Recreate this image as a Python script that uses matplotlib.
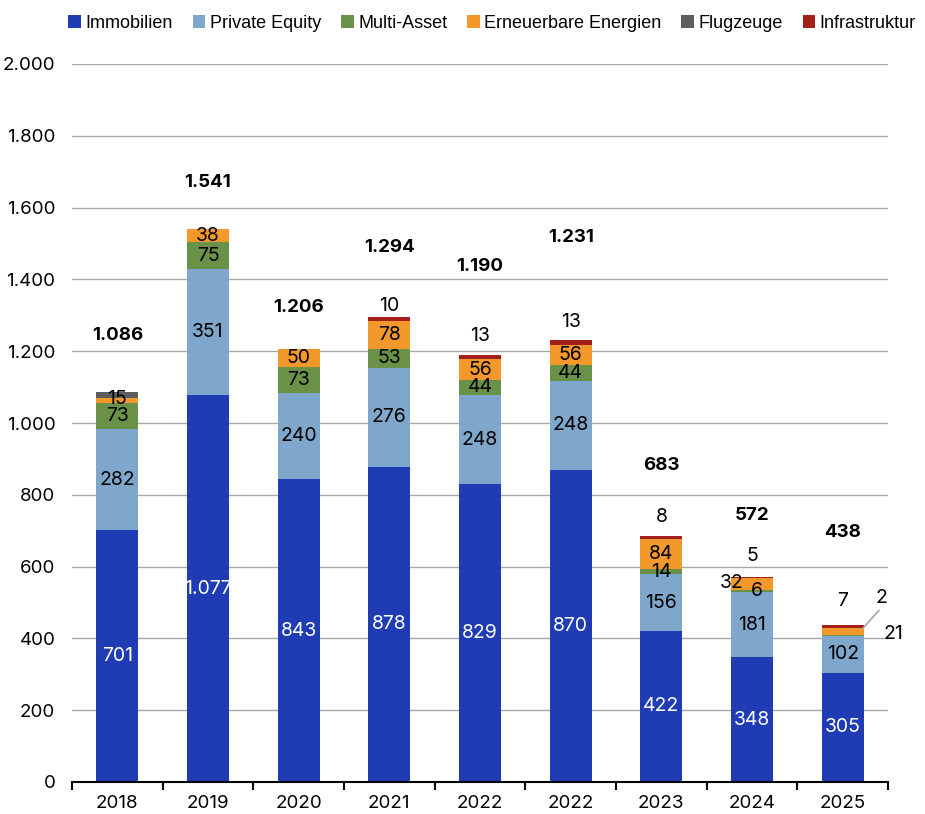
import matplotlib
matplotlib.use("Agg")
import matplotlib.pyplot as plt
from matplotlib.patches import Patch
from matplotlib.ticker import FixedLocator, FuncFormatter
import numpy as np

# Data (Mio. EUR)
years = ["2018", "2019", "2020", "2021", "2022", "2022", "2023", "2024", "2025"]
series_names = ["Immobilien", "Private Equity", "Multi-Asset",
                "Erneuerbare Energien", "Flugzeuge", "Infrastruktur"]
immobilien = [701, 1077, 843, 878, 829, 870, 422, 348, 305]
private_equity = [282, 351, 240, 276, 248, 248, 156, 181, 102]
multi_asset = [73, 75, 73, 53, 44, 44, 14, 6, 2]
erneuerbare = [15, 38, 50, 78, 56, 56, 84, 32, 21]
flugzeuge = [15, 0, 0, 0, 0, 0, 0, 0, 0]
infrastruktur = [0, 0, 0, 10, 13, 13, 8, 5, 7]
totals = [1086, 1541, 1206, 1294, 1190, 1231, 683, 572, 438]
y_ticks = [0, 200, 400, 600, 800, 1000, 1200, 1400, 1600, 1800, 2000]

colors = ["#1F3CB4", "#7FA7CC", "#6A9148", "#F3982A", "#5E5E5E", "#A31F1A"]

NUM_FONT = ["Inter", "DejaVu Sans"]
LEG_FONT = ["Liberation Sans Narrow", "Liberation Sans", "DejaVu Sans"]

fig = plt.figure(figsize=(9.25, 8.14), dpi=100)
ax = fig.add_axes([72 / 925, 1 - 782 / 814, 816 / 925, (782 - 64) / 814])

x = np.arange(len(years))
width = 0.46
stack = [immobilien, private_equity, multi_asset, erneuerbare, flugzeuge, infrastruktur]
bottom = np.zeros(len(years))
bars = []
for vals, col in zip(stack, colors):
    ax.bar(x, vals, width, bottom=bottom, color=col, zorder=3, linewidth=0)
    bars.append((np.array(vals, dtype=float), bottom.copy()))
    bottom += np.array(vals, dtype=float)

# Segment labels: default centred in the segment
label_fs = 14
# overrides: (series, bar) -> (x offset, y in data units, ha) ; None = no label
overrides = {
    (3, 0): (0.0, 1068, "center"),
    (4, 0): None,
    (2, 7): (0.05, 532, "center"),
    (3, 7): (-0.22, 555, "center"),
    (2, 8): (0.43, 512, "center"),
    (3, 8): (0.45, 412, "left"),
}
# Infrastruktur values sit above the bar
infra_offset = {3: 32, 4: 52, 5: 50, 6: 55, 7: 58, 8: 66}

for s, (vals, bots) in enumerate(bars):
    for i, v in enumerate(vals):
        if v <= 0:
            continue
        key = (s, i)
        if key in overrides and overrides[key] is None:
            continue
        txt_col = "white" if s == 0 else "black"
        if s == 5:
            xx, yy, ha = x[i], totals[i] + infra_offset[i], "center"
        elif key in overrides:
            dx, yy, ha = overrides[key]
            xx = x[i] + dx
        else:
            xx, yy, ha = x[i], bots[i] + v / 2, "center"
        s_txt = f"{int(v):,}".replace(",", ".")
        ax.text(xx, yy, s_txt, ha=ha, va="center", fontsize=label_fs,
                color=txt_col, family=NUM_FONT, zorder=5)

# Leader line for the small Multi-Asset value in 2025
ax.plot([x[8] + 0.22, x[8] + 0.40], [427, 478], color="#A6A6A6", lw=1.2, zorder=4)

# Totals above the bars
total_offset = [159, 128, 117, 196, 247, 287, 200, 169, 256]
for i, t in enumerate(totals):
    ax.text(x[i], t + total_offset[i], f"{t:,}".replace(",", "."),
            ha="center", va="center", fontsize=13.5, fontweight="bold",
            family=NUM_FONT, zorder=5)

ax.set_xlim(-0.5, len(years) - 0.5)
ax.set_ylim(0, 2000)
ax.yaxis.set_major_locator(FixedLocator(y_ticks))
ax.yaxis.set_major_formatter(FuncFormatter(lambda v, p: f"{int(v):,}".replace(",", ".")))
ax.grid(axis="y", color="#A6A6A6", lw=1.0, zorder=0)
ax.tick_params(axis="y", length=0, pad=12, labelsize=13.5)
for lab in ax.get_yticklabels():
    lab.set_family(NUM_FONT)

ax.set_xticks(x)
ax.set_xticklabels(years, family=NUM_FONT, fontsize=13.5)
ax.tick_params(axis="x", length=0, pad=9)
ax.set_xticks(np.arange(-0.5, len(years)), minor=True)
ax.tick_params(axis="x", which="minor", length=6, width=1.5, color="black", direction="out")

for sp in ["top", "right", "left"]:
    ax.spines[sp].set_visible(False)
ax.spines["bottom"].set_color("black")
ax.spines["bottom"].set_linewidth(1.5)
ax.spines["bottom"].set_zorder(6)

handles = [Patch(facecolor=c, edgecolor="none") for c in colors]
leg = fig.legend(handles, series_names, loc="center left",
                 bbox_to_anchor=(52 / 925, 1 - 23 / 814), ncol=6, frameon=False,
                 handlelength=0.7, handleheight=0.7, handletextpad=0.25,
                 columnspacing=1.1, prop={"family": LEG_FONT, "size": 13})

fig.savefig("out.png", dpi=100)
